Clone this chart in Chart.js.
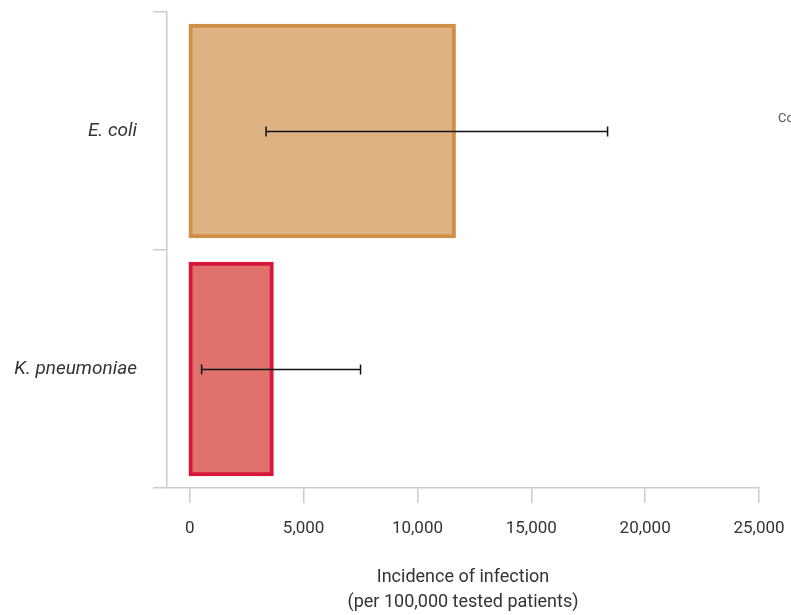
<!DOCTYPE html>
<html>
<head>
<meta charset="utf-8">
<script src="https://cdn.jsdelivr.net/npm/chart.js@4/dist/chart.umd.min.js"></script>
<style>
  html, body { margin: 0; padding: 0; background: #fff; }
  #chart { display: block; }
</style>
</head>
<body>
<canvas id="chart" width="791" height="615"></canvas>
<script>
var organisms = ["E. coli", "K. pneumoniae"];
var incidence = [11600, 3600];
var ciLow = [3350, 520];
var ciHigh = [18350, 7500];
var xTicks = [0, 5000, 10000, 15000, 20000, 25000];
var fillColors = ["#dfb284", "#e0716c"];
var borderColors = ["#d08e47", "#d7163a"];

// error bars drawn from the scales
var errorBars = {
    id: "errorBars",
    afterDatasetsDraw: function(chart) {
        var ctx = chart.ctx;
        var xs = chart.scales.x, ys = chart.scales.y;
        ctx.save();
        ctx.strokeStyle = "#111";
        ctx.lineWidth = 1.5;
        for (var i = 0; i < organisms.length; i++) {
            var y = Math.round(ys.getPixelForValue(i)) + 0.5;
            var x1 = xs.getPixelForValue(ciLow[i]);
            var x2 = xs.getPixelForValue(ciHigh[i]);
            ctx.beginPath();
            ctx.moveTo(x1, y); ctx.lineTo(x2, y);
            ctx.moveTo(x1, y - 5); ctx.lineTo(x1, y + 5);
            ctx.moveTo(x2, y - 5); ctx.lineTo(x2, y + 5);
            ctx.stroke();
        }
        ctx.restore();
    },
    afterDraw: function(chart) {
        // clipped legend text at right edge
        var ctx = chart.ctx;
        ctx.save();
        ctx.font = "13px Roboto";
        ctx.fillStyle = "#555";
        ctx.textBaseline = "middle";
        ctx.fillText("Community", 778, 119);
        ctx.restore();
    }
};

new Chart(document.getElementById("chart").getContext("2d"), {
    type: "bar",
    data: {
        labels: organisms,
        datasets: [{
            data: incidence,
            backgroundColor: fillColors,
            borderColor: borderColors,
            borderWidth: 4,
            borderSkipped: false,
            inflateAmount: 2,
            categoryPercentage: 0.885,
            barPercentage: 1.0
        }]
    },
    options: {
        indexAxis: "y",
        responsive: false,
        animation: false,
        layout: { padding: { top: 12, right: 32, left: 0, bottom: 0 } },
        plugins: {
            legend: { display: false },
            tooltip: { enabled: false }
        },
        scales: {
            x: {
                min: -1000,
                max: 25000,
                afterBuildTicks: function(axis) {
                    axis.ticks = xTicks.map(function(v) { return { value: v }; });
                },
                afterFit: function(axis) {
                    axis.height = 127;
                    axis.paddingLeft = 0;
                    axis.paddingRight = 0;
                },
                grid: {
                    drawOnChartArea: false,
                    tickLength: 15,
                    color: "#cccccc",
                    lineWidth: 1.5
                },
                border: { color: "#cccccc", width: 1.5 },
                ticks: {
                    font: { family: "Roboto", size: 17 },
                    color: "#333",
                    padding: 16,
                    maxRotation: 0,
                    callback: function(v) { return v.toLocaleString("en-US"); }
                },
                title: {
                    display: true,
                    text: ["Incidence of infection", "(per 100,000 tested patients)"],
                    font: { family: "Roboto", size: 18, lineHeight: 1.4 },
                    color: "#333",
                    padding: { top: 19, bottom: 0 }
                }
            },
            y: {
                afterFit: function(axis) {
                    axis.width = 167;
                    axis.paddingTop = 0;
                    axis.paddingBottom = 0;
                },
                grid: {
                    drawOnChartArea: false,
                    tickLength: 14,
                    color: "#cccccc",
                    lineWidth: 1.5
                },
                border: { color: "#cccccc", width: 1.5 },
                ticks: {
                    font: { family: "Roboto", size: 19, style: "italic" },
                    color: "#333",
                    padding: 16
                }
            }
        }
    },
    plugins: [errorBars]
});
</script>
</body>
</html>
